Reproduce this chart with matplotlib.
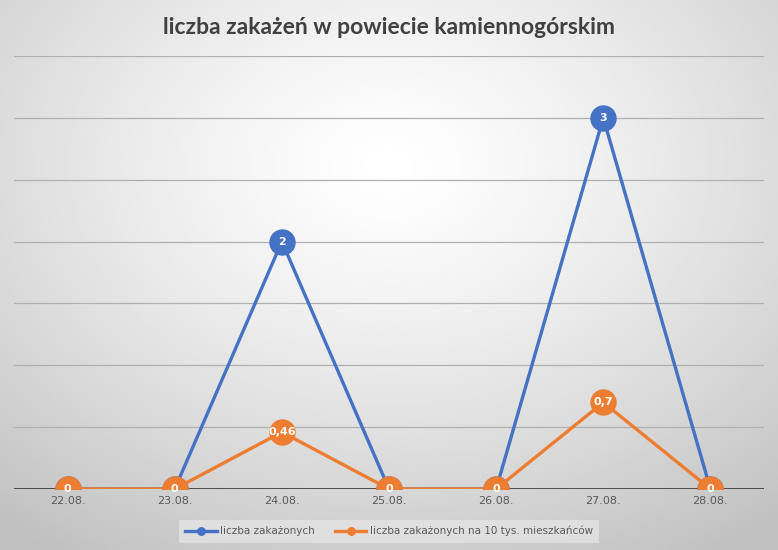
import numpy as np
import matplotlib
matplotlib.use("Agg")
import matplotlib.pyplot as plt

# data
dates = ["22.08.", "23.08.", "24.08.", "25.08.", "26.08.", "27.08.", "28.08."]
cases = [0, 0, 2, 0, 0, 3, 0]
cases_per_10k = [0, 0, 0.46, 0, 0, 0.7, 0]
cases_labels = ["0", "0", "2", "0", "0", "3", "0"]
per_10k_labels = ["0", "0", "0,46", "0", "0", "0,7", "0"]

BLUE = "#4472C4"
ORANGE = "#ED7D31"

W, H = 778, 550
fig = plt.figure(figsize=(W / 100, H / 100), dpi=100)

# radial gradient background, white near the top middle going gray at edges
bg = fig.add_axes([0, 0, 1, 1])
yy, xx = np.mgrid[0:1:200j, 0:1:280j]
r = np.sqrt(((xx - 0.5) / 0.8) ** 2 + ((yy - 0.3) / 0.85) ** 2)
shade = 1.0 - 0.25 * np.clip(r, 0, 1) ** 1.3
bg.imshow(shade, cmap="gray", vmin=0, vmax=1, extent=[0, 1, 0, 1],
          aspect="auto", origin="upper")
bg.axis("off")

ax = fig.add_axes([14 / W, 1 - 489 / H, 750 / W, 433 / H])
ax.patch.set_alpha(0)
x = np.arange(len(dates))

ax.set_xlim(-0.5, len(dates) - 0.5)
ax.set_ylim(0, 3.5)
for g in np.arange(0.5, 3.51, 0.5):
    ax.axhline(g, color="#b0b0b0", lw=0.9, zorder=1)
ax.axhline(0, color="#404040", lw=2, zorder=2)

ax.plot(x, cases, color=BLUE, lw=2.4, marker="o", ms=18, zorder=3,
        label="liczba zakażonych")
ax.plot(x, cases_per_10k, color=ORANGE, lw=2.4, marker="o", ms=18, zorder=4,
        label="liczba zakażonych na 10 tys. mieszkańców")

for i in range(len(x)):
    if cases[i] != 0:
        ax.text(x[i], cases[i], cases_labels[i], color="white", fontsize=8,
                fontweight="bold", ha="center", va="center", zorder=5)
    ax.text(x[i], cases_per_10k[i], per_10k_labels[i], color="white",
            fontsize=8, fontweight="bold", ha="center", va="center", zorder=6)

ax.set_xticks(x)
ax.set_xticklabels(dates, fontsize=8, color="#595959")
ax.tick_params(axis="x", length=0, pad=5)
ax.set_yticks([])
for s in ax.spines.values():
    s.set_visible(False)

fig.text(0.5, 1 - 27 / H, "liczba zakażeń w powiecie kamiennogórskim",
         ha="center", va="center", fontsize=16.5, fontweight="bold",
         color="#404040", family="Lato")

leg = fig.legend(loc="center", bbox_to_anchor=(389 / W, 1 - 531 / H), ncol=2,
                 fontsize=7.5, frameon=True, fancybox=False, markerscale=0.3,
                 handlelength=3, handletextpad=0.3, columnspacing=2.0,
                 borderpad=0.6)
leg.get_frame().set_facecolor("#e4e4e4")
leg.get_frame().set_edgecolor("none")
for t in leg.get_texts():
    t.set_color("#595959")

fig.savefig("out.png", dpi=100)
